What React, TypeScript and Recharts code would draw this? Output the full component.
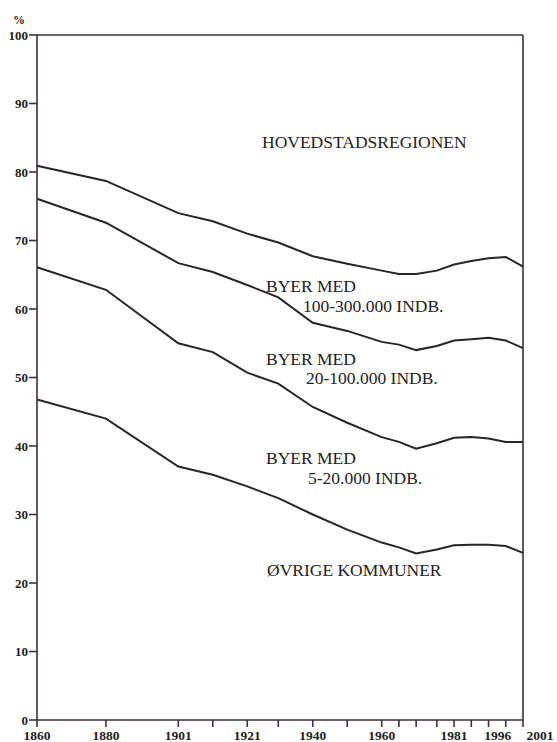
import { LineChart, Line, XAxis, YAxis, ReferenceLine } from "recharts";

// census years (x ticks) and cumulative shares (%) for each boundary line
const years = [1860, 1880, 1901, 1911, 1921, 1930, 1940, 1950, 1960, 1965, 1970, 1976, 1981, 1986, 1991, 1996, 2001];
const labeledYears = [1860, 1880, 1901, 1921, 1940, 1960, 1981, 1996, 2001];
const yTicks = [0, 10, 20, 30, 40, 50, 60, 70, 80, 90, 100];

const under100to300 = [80.9, 78.7, 74.0, 72.8, 71.0, 69.7, 67.7, 66.6, 65.6, 65.1, 65.1, 65.6, 66.5, 67.0, 67.4, 67.6, 66.2];
const under20to100 = [76.1, 72.6, 66.7, 65.4, 63.5, 61.7, 58.0, 56.8, 55.2, 54.8, 54.0, 54.6, 55.4, 55.6, 55.8, 55.4, 54.3];
const under5to20 = [66.1, 62.8, 55.0, 53.7, 50.7, 49.1, 45.7, 43.4, 41.3, 40.6, 39.6, 40.4, 41.2, 41.3, 41.1, 40.6, 40.6];
const ovrige = [46.8, 44.0, 37.0, 35.8, 34.1, 32.4, 30.0, 27.8, 25.9, 25.2, 24.3, 24.9, 25.5, 25.6, 25.6, 25.4, 24.4];

const data = years.map((year, i) => ({
  year,
  a: under100to300[i],
  b: under20to100[i],
  c: under5to20[i],
  d: ovrige[i],
}));

const axisColor = "#3d2f3d";
const lineColor = "#2a2427";
const textColor = "#222";
const serif = "'Liberation Serif', 'DejaVu Serif', serif";

// the scanned original nudges the last two labels apart
const labelShift: Record<number, number> = { 1996: -8, 2001: 17 };

function YearTick(props: any) {
  const { x, y, payload } = props;
  const v = payload.value;
  if (!labeledYears.includes(v)) return <g />;
  return (
    <text
      x={x + (labelShift[v] || 0)}
      y={y}
      dy="0.71em"
      textAnchor="middle"
      fill={textColor}
      fontFamily={serif}
      fontSize={13.5}
      fontWeight="bold"
    >
      {v}
    </text>
  );
}

const notes = [
  { x: 262, y: 142, text: "HOVEDSTADSREGIONEN" },
  { x: 266, y: 286, text: "BYER MED" },
  { x: 303, y: 306, text: "100-300.000 INDB." },
  { x: 266, y: 359, text: "BYER MED" },
  { x: 306, y: 378, text: "20-100.000 INDB." },
  { x: 266, y: 458, text: "BYER MED" },
  { x: 308, y: 478, text: "5-20.000 INDB." },
  { x: 267, y: 570, text: "ØVRIGE KOMMUNER" },
];

export default function App() {
  return (
    <div style={{ position: "absolute", left: 0, top: 0, width: 557, height: 742, background: "#fff" }}>
      <LineChart width={557} height={742} data={data} margin={{ top: 35, right: 34, bottom: 0, left: 0 }}>
        <XAxis
          dataKey="year"
          type="number"
          domain={[1860, 2001]}
          ticks={years}
          interval={0}
          tickSize={7}
          tickMargin={3}
          height={22}
          stroke={axisColor}
          strokeWidth={1.6}
          tick={<YearTick />}
        />
        <YAxis
          type="number"
          domain={[0, 100]}
          ticks={yTicks}
          interval={0}
          tickSize={8}
          tickMargin={1}
          width={37}
          stroke={axisColor}
          strokeWidth={1.6}
          tick={{ fill: textColor, fontFamily: serif, fontSize: 13, fontWeight: "bold" }}
        />
        <ReferenceLine y={100} stroke={axisColor} strokeWidth={1.6} />
        <ReferenceLine x={2001} stroke={axisColor} strokeWidth={1.6} />
        <Line type="linear" dataKey="a" stroke={lineColor} strokeWidth={2} dot={false} isAnimationActive={false} />
        <Line type="linear" dataKey="b" stroke={lineColor} strokeWidth={2} dot={false} isAnimationActive={false} />
        <Line type="linear" dataKey="c" stroke={lineColor} strokeWidth={2} dot={false} isAnimationActive={false} />
        <Line type="linear" dataKey="d" stroke={lineColor} strokeWidth={2} dot={false} isAnimationActive={false} />
      </LineChart>
      <svg width={557} height={742} style={{ position: "absolute", left: 0, top: 0, pointerEvents: "none" }}>
        <text x={19} y={20} textAnchor="middle" dominantBaseline="central" fill={textColor} fontFamily={serif} fontSize={12} fontWeight="bold">
          %
        </text>
        {notes.map((n, i) => (
          <text key={i} x={n.x} y={n.y} dominantBaseline="central" fill={textColor} fontFamily={serif} fontSize={17.5}>
            {n.text}
          </text>
        ))}
      </svg>
    </div>
  );
}
